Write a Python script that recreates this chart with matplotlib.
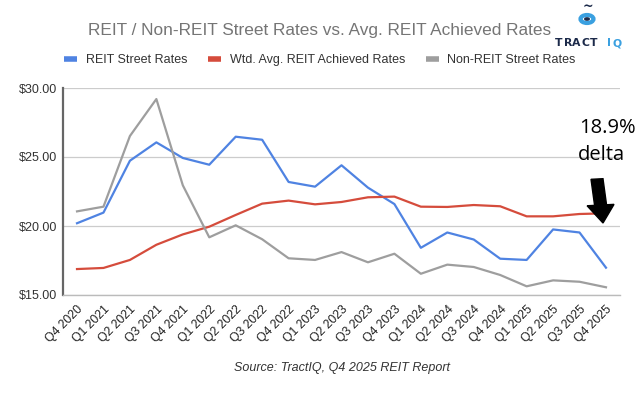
import matplotlib
matplotlib.use("Agg")
import matplotlib.pyplot as plt
from matplotlib.patches import Circle, FancyArrow
from matplotlib.lines import Line2D

quarters = ["Q4 2020", "Q1 2021", "Q2 2021", "Q3 2021", "Q4 2021", "Q1 2022", "Q2 2022",
            "Q3 2022", "Q4 2022", "Q1 2023", "Q2 2023", "Q3 2023", "Q4 2023", "Q1 2024",
            "Q2 2024", "Q3 2024", "Q4 2024", "Q1 2025", "Q2 2025", "Q3 2025", "Q4 2025"]

reit_street = [20.20, 20.97, 24.73, 26.06, 24.93, 24.44, 26.47, 26.25, 23.19, 22.85, 24.40,
               22.78, 21.59, 18.42, 19.53, 19.02, 17.63, 17.54, 19.75, 19.53, 16.98]
reit_achieved = [16.88, 16.96, 17.54, 18.64, 19.39, 19.95, 20.80, 21.62, 21.84, 21.57, 21.74,
                 22.08, 22.13, 21.40, 21.38, 21.52, 21.43, 20.70, 20.70, 20.87, 20.92]
nonreit_street = [21.06, 21.40, 26.52, 29.20, 22.95, 19.18, 20.05, 19.04, 17.66, 17.54, 18.11,
                  17.37, 17.99, 16.54, 17.20, 17.03, 16.45, 15.63, 16.06, 15.96, 15.56]

series_names = ["REIT Street Rates", "Wtd. Avg. REIT Achieved Rates", "Non-REIT Street Rates"]
colors = ["#4f83e2", "#d54c3c", "#9e9e9e"]
yticks = [15, 20, 25, 30]

plt.rcParams['font.family'] = ['Liberation Sans', 'DejaVu Sans']

W, H = 640, 394
fig = plt.figure(figsize=(6.4, 3.94), dpi=100)
ax = fig.add_axes([63/W, 1-295/H, (620-63)/W, (295-88)/H])

x = list(range(len(quarters)))
for vals, c in zip([reit_street, reit_achieved, nonreit_street], colors):
    ax.plot(x, vals, color=c, lw=1.6, solid_joinstyle='round', zorder=3)

ax.set_xlim(-0.53, len(quarters) - 1 + 0.53)
ax.set_ylim(15, 30)
ax.set_yticks(yticks)
ax.set_yticklabels([f"${v:.2f}" for v in yticks], fontsize=9, color="#333333")
ax.set_xticks(x)
ax.set_xticklabels(quarters, rotation=45, ha='right', rotation_mode='anchor', fontsize=8.8, color="#222222")
ax.tick_params(length=0, pad=4)
ax.tick_params(axis='x', pad=6)
ax.grid(axis='y', color="#cccccc", lw=0.9)
ax.set_axisbelow(True)
for s in ['top', 'right']:
    ax.spines[s].set_visible(False)
ax.spines['left'].set_color('#666666')
ax.spines['left'].set_linewidth(1.6)
ax.spines['bottom'].set_color('#bbbbbb')
ax.spines['bottom'].set_linewidth(1.0)

# Title
fig.text(320/W, 1-30/H, "REIT / Non-REIT Street Rates vs. Avg. REIT Achieved Rates",
         ha='center', va='center', fontsize=12.4, color="#757575")

# Legend
handles = [Line2D([0], [0], color=c, lw=4, solid_capstyle='butt') for c in colors]
fig.legend(handles, series_names, loc='center', bbox_to_anchor=(320/W, 1-60/H), ncol=3,
           frameon=False, fontsize=9, handlelength=1.0, handletextpad=0.7, columnspacing=1.7,
           labelcolor="#333333")

# Annotation
fig.text(579/W, 1-128/H, "18.9%", ha='left', va='center', fontsize=14.5, color='black',
         family=['Open Sans', 'DejaVu Sans'])
fig.text(578/W, 1-155/H, "delta", ha='left', va='center', fontsize=14.5, color='black',
         family=['Open Sans', 'DejaVu Sans'])
arrow = FancyArrow(597/W, 1-179/H, 6/W, -44/H, width=12/W, head_width=27/W,
                   head_length=18/H, length_includes_head=True, transform=fig.transFigure,
                   color='black', zorder=10)
fig.patches.append(arrow)

# Source
fig.text(342/W, 1-368/H, "Source: TractIQ, Q4 2025 REIT Report", ha='center', va='center',
         fontsize=9, style='italic', color="#333333")

# Logo
lx, ly = 587, 19
fig.patches.append(Circle((lx/W, 1-ly/H), 6.5/W, transform=fig.transFigure,
                          facecolor='none', edgecolor='#3aa0e0', lw=3.0))
fig.patches.append(Circle((lx/W, 1-ly/H), 3.0/W, transform=fig.transFigure,
                          facecolor='#1c2a4a', edgecolor='none'))
fig.text(588/W, 1-6/H, "~", ha='center', va='center', fontsize=9, color='#1c2a4a', weight='bold',
         family=['DejaVu Sans'])
logo_letters = ["T", "R", "A", "C", "T", "I", "Q"]
logo_pos = [559, 568, 576.5, 585.5, 594, 609, 617]
for ch, px in zip(logo_letters, logo_pos):
    fig.text(px/W, 1-43.5/H, ch, ha='center', va='center', fontsize=7.8, weight='bold',
             color='#1c2a4a' if px < 600 else '#3aa0e0', family=['DejaVu Sans'])

fig.savefig("out.png", dpi=100)
